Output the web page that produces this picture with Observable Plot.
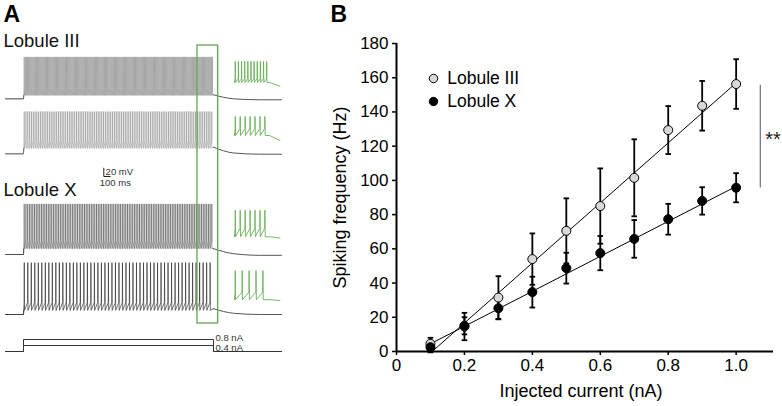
<!DOCTYPE html>
<html><head><meta charset="utf-8">
<script src="https://cdn.jsdelivr.net/npm/d3@7"></script>
<script src="https://cdn.jsdelivr.net/npm/@observablehq/plot@0.6"></script>
<style>
html,body{margin:0;padding:0;background:#fff;}
#fig{position:relative;width:782px;height:406px;overflow:hidden;background:#fff;}
#fig svg{position:absolute;top:0;}
</style></head><body><div id="fig"></div>
<script>
// ================= Panel B data =================
const currents   = [0.1, 0.2, 0.3, 0.4, 0.5, 0.6, 0.7, 0.8, 0.9, 1.0];
const freqLobIII = [4.5, 14.6, 31.5, 54, 70.5, 85, 101.5, 129.4, 143.6, 156.3];
const semLobIII  = [3.5, 8, 12.5, 15, 19, 22, 22.5, 14, 14.5, 14.5];
const freqLobX   = [2.5, 15, 25.3, 34.7, 48.7, 57.5, 65.8, 77.3, 88, 95.7];
const semLobX    = [3, 5, 6.5, 9, 9, 10, 11, 9, 8, 8.5];
const fitCurrents = [0.105, 1.0];
const fitLobIII   = [0, 157];
const fitLobX     = [5, 96.5];
const sigCurrent  = 1.071;
const sigRange    = [95.6, 155.6];
const sigLabel    = "**";
const seriesNames = ["Lobule III", "Lobule X"];
const xTicks = [0, 0.2, 0.4, 0.6, 0.8, 1.0];
const yTicks = [0, 20, 40, 60, 80, 100, 120, 140, 160, 180];
const xLabel = "Injected current (nA)";
const yLabel = "Spiking frequency (Hz)";
const panelLabels = ["A", "B"];

// ================= Panel A data =================
const traceGroups      = ["Lobule III", "Lobule III", "Lobule X", "Lobule X"];
const traceCurrents    = [0.8, 0.4, 0.8, 0.4];
const spikeCounts      = [170, 105, 110, 54];
const spikePeakMV      = [101, 102, 122, 125];
const spikeThresholdMV = [25, 32, 34, 29];
const spikeTroughMV    = [8, 13, 14, 10];
const tailTimesMs      = [3000, 3316, 3743, 4074];
const tailMV           = [[9.6, 0, -2.4, -2.4], [16, 2, -1, -1], [14, 2, -2, -2], [14, 3, 0, 0]];
const insetSpikeCounts = [11, 7, 7, 5];
const insetPeakMV      = [60, 58, 67, 72];
const insetThresholdMV = [18, 29, 23, 20];
const insetTroughMV    = [9, 12, 3, 2];
const insetTailMV      = [[9, 0], [12, 0], [3, 0], [2, 0]];
const stimMs   = [0, 3000];
const preMs    = -284;
const windowMs = [2747, 3074];
const stepCurrents = [0.8, 0.4];
const scaleBarMs = 100;
const scaleBarMV = 20;
const scaleBarTexts = ["20 mV", "100 ms"];

// ================= layout (positions / styles) =================
const FONT = '"Liberation Sans", Arial, Helvetica, sans-serif';
const L = {
  pxPerMV: 0.415,
  restPx: [98.3, 153.3, 254, 314],
  insetRestPx: [85.7, 140, 237.5, 300],
  insetStartMs: 3330, insetStretch: 2.2,
  currentRestPx: 351, pxPerNA: 15,
  boxTopPx: 45, boxBottomPx: 323,
  scaleBarAtMs: 1268, scaleBarBottomPx: 176,
  traceColors: ["#7a7a7a", "#8a8a8a", "#4a4a4a", "#333"],
  traceWidths: [0.45, 0.5, 0.5, 0.7],
  green: "#5fa84e", insetGreen: "#68b058"
};
const k = L.pxPerMV;
const yOf = (restPx, mv) => -restPx / k + mv;

// ---- build panel A geometry ----
function buildMain(i) {
  const r = L.restPx[i], pts = [];
  const add = (t, v) => pts.push({t, y: yOf(r, v)});
  add(preMs, 0); add(stimMs[0], 0); add(stimMs[0] + 4, spikeTroughMV[i]);
  const n = spikeCounts[i], t0 = stimMs[0] + 10, P = (stimMs[1] - t0) / n;
  for (let s = 0; s < n; s++) {
    const t = t0 + s * P;
    add(t, spikeThresholdMV[i]);
    add(t + P * 0.04, spikePeakMV[i]);
    add(t + P * 0.1, spikeTroughMV[i]);
  }
  add(stimMs[1], tailMV[i][0]);
  return pts;
}
function buildTail(i) {
  return tailTimesMs.map((t, j) => ({t, y: yOf(L.restPx[i], tailMV[i][j])}));
}
function buildPre(i) {
  return [{t: preMs, y: yOf(L.restPx[i], 0)}, {t: stimMs[0], y: yOf(L.restPx[i], 0)}, {t: stimMs[0] + 4, y: yOf(L.restPx[i], spikeTroughMV[i])}];
}
function buildInset(i) {
  const r = L.insetRestPx[i], pts = [];
  const add = (tau, v) => pts.push({t: L.insetStartMs + tau * L.insetStretch, y: yOf(r, v)});
  const stimEnd = stimMs[1] - windowMs[0], wEnd = windowMs[1] - windowMs[0];
  const n = insetSpikeCounts[i], P = (stimEnd - 5) / n;
  add(0, insetTroughMV[i]);
  for (let s = 0; s < n; s++) {
    const tau = 5 + s * P;
    add(tau, insetThresholdMV[i]);
    add(tau + 1.2, insetPeakMV[i]);
    add(tau + 3.5, insetTroughMV[i]);
  }
  add(stimEnd, insetTailMV[i][0]);
  add(wEnd, insetTailMV[i][1]);
  return pts;
}
function buildStep(I) {
  const base = -L.currentRestPx / k, up = base + I * L.pxPerNA / k, end = tailTimesMs[tailTimesMs.length - 1];
  return [{t: preMs, y: base}, {t: stimMs[0], y: base}, {t: stimMs[0], y: up},
          {t: stimMs[1], y: up}, {t: stimMs[1], y: base}, {t: end, y: base}];
}

const marksA = [];
traceCurrents.forEach((c, i) => {
  marksA.push(Plot.line(buildPre(i), {x: "t", y: "y", stroke: "#555", strokeWidth: 1}));
  marksA.push(Plot.line(buildMain(i), {x: "t", y: "y", stroke: L.traceColors[i], strokeWidth: L.traceWidths[i]}));
  marksA.push(Plot.line(buildTail(i), {x: "t", y: "y", stroke: "#555", strokeWidth: 1, curve: "monotone-x"}));
  marksA.push(Plot.line(buildInset(i), {x: "t", y: "y", stroke: L.insetGreen, strokeWidth: 0.9}));
});
stepCurrents.forEach(I => marksA.push(Plot.line(buildStep(I), {x: "t", y: "y", stroke: "#333", strokeWidth: 1})));
marksA.push(Plot.text([stepCurrents[0]], {x: () => stimMs[1], y: I => -L.currentRestPx / k + I * L.pxPerNA / k,
  text: I => `${I} nA`, dx: 2, dy: -1.6, textAnchor: "start", lineAnchor: "middle", fontSize: 9.5, fill: "#333"}));
marksA.push(Plot.text([stepCurrents[1]], {x: () => stimMs[1], y: I => -L.currentRestPx / k + I * L.pxPerNA / k,
  text: I => `${I} nA`, dx: 2, dy: 2.4, textAnchor: "start", lineAnchor: "middle", fontSize: 9.5, fill: "#333"}));
// highlight window
marksA.push(Plot.rect([windowMs], {x1: d => d[0], x2: d => d[1],
  y1: () => -L.boxTopPx / k, y2: () => -L.boxBottomPx / k, fill: "none", stroke: L.green, strokeWidth: 1.3}));
// scale bar
const sb = L.scaleBarAtMs, sbBase = L.scaleBarBottomPx;
marksA.push(Plot.line([{t: sb, y: yOf(sbBase, scaleBarMV)}, {t: sb, y: yOf(sbBase, 0)}, {t: sb + scaleBarMs, y: yOf(sbBase, 0)}],
  {x: "t", y: "y", stroke: "#222", strokeWidth: 1}));
marksA.push(Plot.text([scaleBarTexts[0]], {x: () => sb, y: () => yOf(sbBase, 10), text: d => d, dx: 1.8, textAnchor: "start", lineAnchor: "middle", fontSize: 9.5, fill: "#333"}));
marksA.push(Plot.text([scaleBarTexts[1]], {x: () => sb, y: () => yOf(sbBase, -16), text: d => d, dx: -4, textAnchor: "start", lineAnchor: "middle", fontSize: 9.5, fill: "#333"}));
// labels
marksA.push(Plot.text([panelLabels[0]], {frameAnchor: "top-left", text: d => d, dx: 3, dy: 14.3, textAnchor: "start", lineAnchor: "middle", fontSize: 23, fontWeight: "bold", fill: "#000"}));
marksA.push(Plot.text([traceGroups[0]], {frameAnchor: "top-left", text: d => d, dx: 3, dy: 40.8, textAnchor: "start", lineAnchor: "middle", fontSize: 18.5, fill: "#111"}));
marksA.push(Plot.text([traceGroups[2]], {frameAnchor: "top-left", text: d => d, dx: 3, dy: 190, textAnchor: "start", lineAnchor: "middle", fontSize: 18.5, fill: "#111"}));

const plotA = Plot.plot({
  width: 320, height: 406, margin: 0,
  x: {domain: stimMs, range: [23, 213], axis: null},
  y: {domain: [0, -406 / k], range: [0, 406], axis: null},
  style: {fontFamily: FONT, background: "transparent"},
  marks: marksA
});

// ---- panel B ----
const rowsIII = currents.map((c, i) => ({c, f: freqLobIII[i], lo: freqLobIII[i] - semLobIII[i], hi: freqLobIII[i] + semLobIII[i]}));
const rowsX   = currents.map((c, i) => ({c, f: freqLobX[i], lo: freqLobX[i] - semLobX[i], hi: freqLobX[i] + semLobX[i]}));
const caps = [...rowsIII, ...rowsX].flatMap(d => [{c: d.c, y: d.lo}, {c: d.c, y: d.hi}]);
const capSymbol = {draw(ctx, size) { const w = Math.sqrt(size / Math.PI); ctx.moveTo(-w, 0); ctx.lineTo(w, 0); }};
const fitIII = fitCurrents.map((c, i) => ({c, f: fitLobIII[i]}));
const fitX = fitCurrents.map((c, i) => ({c, f: fitLobX[i]}));

const plotB = Plot.plot({
  width: 462, height: 406, marginLeft: 76, marginRight: 9, marginTop: 43, marginBottom: 55,
  x: {domain: [0, 1.11]},
  y: {domain: [0, 180]},
  style: {fontFamily: FONT, fontSize: "17px", color: "#000", background: "transparent"},
  marks: [
    Plot.axisY({ticks: yTicks, tickSize: 4, tickPadding: 4, label: null, strokeWidth: 1.5}),
    Plot.axisX({ticks: xTicks, tickSize: 4, tickPadding: 3, label: null, strokeWidth: 1.5,
      tickFormat: d => d === 0 ? "0" : d.toFixed(1)}),
    Plot.ruleX([0], {strokeWidth: 2}),
    Plot.ruleY([0], {strokeWidth: 2}),
    Plot.line(fitIII, {x: "c", y: "f", stroke: "#000", strokeWidth: 1}),
    Plot.line(fitX, {x: "c", y: "f", stroke: "#000", strokeWidth: 1}),
    Plot.ruleX([...rowsIII, ...rowsX], {x: "c", y1: "lo", y2: "hi", stroke: "#000", strokeWidth: 1.8}),
    Plot.dot(caps, {x: "c", y: "y", symbol: capSymbol, r: 2.8, stroke: "#000", strokeWidth: 1.8, fill: "none"}),
    Plot.dot(rowsIII, {x: "c", y: "f", r: 4.5, fill: "#d9d9d9", stroke: "#000", strokeWidth: 1}),
    Plot.dot(rowsX, {x: "c", y: "f", r: 4.5, fill: "#000", stroke: "#000", strokeWidth: 1}),
    Plot.ruleX([sigCurrent], {y1: sigRange[0], y2: sigRange[1], stroke: "#555", strokeWidth: 1}),
    Plot.text([sigLabel], {x: () => sigCurrent, y: () => 124, text: d => d, dx: 5, textAnchor: "start", lineAnchor: "middle", fontSize: 20, fill: "#222"}),
    // legend
    Plot.dot([seriesNames[0]], {frameAnchor: "top-left", dx: 37, dy: 35, r: 4.2, fill: "#d9d9d9", stroke: "#000", strokeWidth: 1}),
    Plot.dot([seriesNames[1]], {frameAnchor: "top-left", dx: 37, dy: 58, r: 4.2, fill: "#000", stroke: "#000", strokeWidth: 1}),
    Plot.text([seriesNames[0]], {frameAnchor: "top-left", text: d => d, dx: 50.7, dy: 34.7, textAnchor: "start", lineAnchor: "middle", fontSize: 17.5}),
    Plot.text([seriesNames[1]], {frameAnchor: "top-left", text: d => d, dx: 50.7, dy: 58, textAnchor: "start", lineAnchor: "middle", fontSize: 17.5}),
    // axis titles
    Plot.text([yLabel], {frameAnchor: "left", text: d => d, rotate: -90, dx: -56, textAnchor: "middle", lineAnchor: "middle", fontSize: 18}),
    Plot.text([xLabel], {frameAnchor: "bottom", text: d => d, dy: 40, dx: -4, textAnchor: "middle", lineAnchor: "middle", fontSize: 18}),
    // panel label
    Plot.text([panelLabels[1]], {frameAnchor: "top-left", text: d => d, dx: -66, dy: -28.7, textAnchor: "start", lineAnchor: "middle", fontSize: 23, fontWeight: "bold"})
  ]
});

const fig = document.getElementById("fig");
plotA.style.left = "0px"; plotB.style.left = "320px";
fig.appendChild(plotA); fig.appendChild(plotB);
</script>
</body></html>
